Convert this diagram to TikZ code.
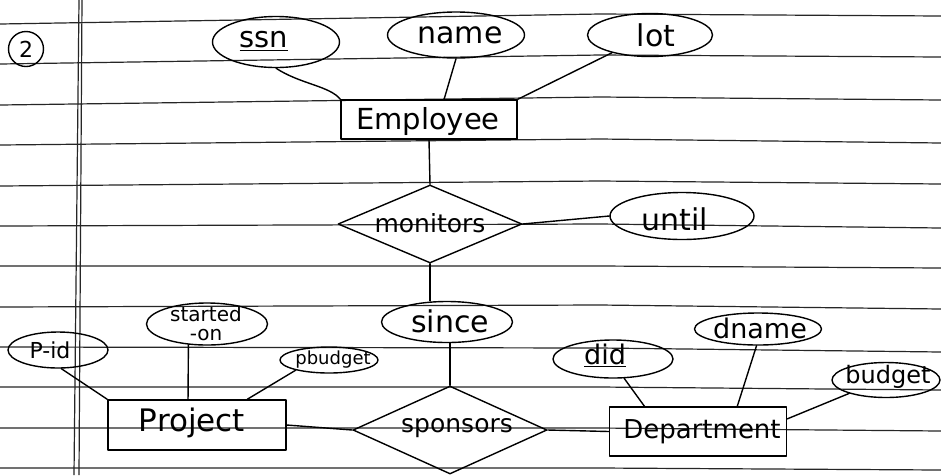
\documentclass[tikz,border=0pt]{standalone}
\usepackage{fontspec}
\setmainfont{DejaVu Sans}
\usetikzlibrary{shapes.geometric,calc}
\begin{document}
\begin{tikzpicture}[x=1pt,y=-1pt,
  paper/.style={line width=1.2pt, black!85},
  ink/.style={line width=1.4pt, black, line cap=round, line join=round},
  attr/.style={ellipse, draw, ink, inner sep=0pt},
  ent/.style={rectangle, draw, ink, inner sep=0pt},
  rel/.style={diamond, draw, ink, inner sep=0pt},
  txt/.style={inner sep=0pt, font=\fontsize{#1}{#1}\selectfont},
]
\useasboundingbox (0,0) rectangle (941,475);
\fill[white] (0,0) rectangle (941,475);
\clip (0,0) rectangle (941,475);

% ruled paper
\foreach \a/\b/\c in {24/14/16, 64/55/57, 105/97/100, 145/139/143, 186/181/184,
  226/224/228, 266/266/268, 307/305/309, 347/348/352, 387/387/390, 428/428/431, 468/468/470}
  \draw[paper] (0,\a) -- (600,\b) -- (941,\c);
\draw[paper] (79,0) -- (74,475);
\draw[paper] (82,0) -- (79,475);

% question number
\node[circle, draw, ink, minimum size=35pt, inner sep=0pt] (qnum) at (26,49) {};
\node[txt=22] (qnum-t) at (26,49) {2};

% Employee and its attributes
\node[ent, minimum width=176pt, minimum height=39pt] (emp) at (429,119.5) {};
\node[txt=29] (emp-t) at (428,121) {Employee};
\node[attr, minimum width=127pt, minimum height=51pt] (ssn) at (276,42) {};
\node[txt=29] (ssn-t) at (264,41) {\underline{ssn}};
\node[attr, minimum width=137pt, minimum height=46pt] (name) at (456,35) {};
\node[txt=30] (name-t) at (460,35) {name};
\node[attr, minimum width=125pt, minimum height=43pt] (lot) at (650,35) {};
\node[txt=30] (lot-t) at (656,35) {lot};

% monitors
\node[rel, minimum width=184pt, minimum height=78pt] (mon) at (430,224) {};
\node[txt=25] (mon-t) at (430,223) {monitors};
\node[attr, minimum width=144pt, minimum height=47pt] (until) at (682,216) {};
\node[txt=30] (until-t) at (675,219) {until};
\node[attr, minimum width=131pt, minimum height=41pt] (since) at (447,322) {};
\node[txt=30] (since-t) at (450,321) {since};

% sponsors
\node[rel, minimum width=194pt, minimum height=88pt] (spon) at (450,430) {};
\node[txt=25] (spon-t) at (457,428) {sponsors};

% Project
\node[ent, minimum width=178pt, minimum height=50pt] (proj) at (197,425) {};
\node[txt=31] (proj-t) at (192,423) {Project};
\node[attr, minimum width=100pt, minimum height=36pt] (pid) at (58,350) {};
\node[txt=22] (pid-t) at (50,350) {P-id};
\node[attr, minimum width=121pt, minimum height=42pt] (start) at (207,324) {};
\node[inner sep=0pt, align=center, font=\fontsize{20}{19}\selectfont] (start-t) at (206,324) {started\\ -on};
\node[attr, minimum width=98pt, minimum height=26pt] (pb) at (329,360) {};
\node[txt=18] (pb-t) at (333,360) {pbudget};

% Department
\node[ent, minimum width=177pt, minimum height=49pt] (dept) at (698,431.5) {};
\node[txt=26] (dept-t) at (702,432) {Department};
\node[attr, minimum width=120pt, minimum height=38pt] (did) at (613,359) {};
\node[txt=27] (did-t) at (605,355) {\underline{did}};
\node[attr, minimum width=127pt, minimum height=32pt] (dname) at (758,329) {};
\node[txt=27] (dname-t) at (760,328) {dname};
\node[attr, minimum width=108pt, minimum height=35pt] (budget) at (886,380) {};
\node[txt=24] (budget-t) at (888,377) {budget};

% connectors
\draw[ink] (ssn.south) .. controls (300,84) and (330,86) .. (emp.north west);
\draw[ink] (name.south) -- ($(emp.north west)!0.585!(emp.north east)$);
\draw[ink] (lot.205) -- (emp.north east);
\draw[ink] (emp.south) -- (mon.north);
\draw[ink] (mon.east) -- (until.west);
\draw[ink] (mon.south) -- (since.north -| mon.south);
\draw[ink] (since.south -| spon.north) -- (spon.north);
\draw[ink] (proj.east) -- (spon.west);
\draw[ink] (spon.east) -- (dept.west);
\draw[ink] (pid.-80) -- (proj.north west);
\draw[ink] (start.228) -- ($(proj.north west)!0.45!(proj.north east)$);
\draw[ink] (pb.197) -- ($(proj.north west)!0.78!(proj.north east)$);
\draw[ink] (did.-60) -- ($(dept.north west)!0.2!(dept.north east)$);
\draw[ink] (dname.265) -- ($(dept.north west)!0.72!(dept.north east)$);
\draw[ink] (budget.200) -- ($(dept.north east)!0.25!(dept.south east)$);
\end{tikzpicture}
\end{document}
